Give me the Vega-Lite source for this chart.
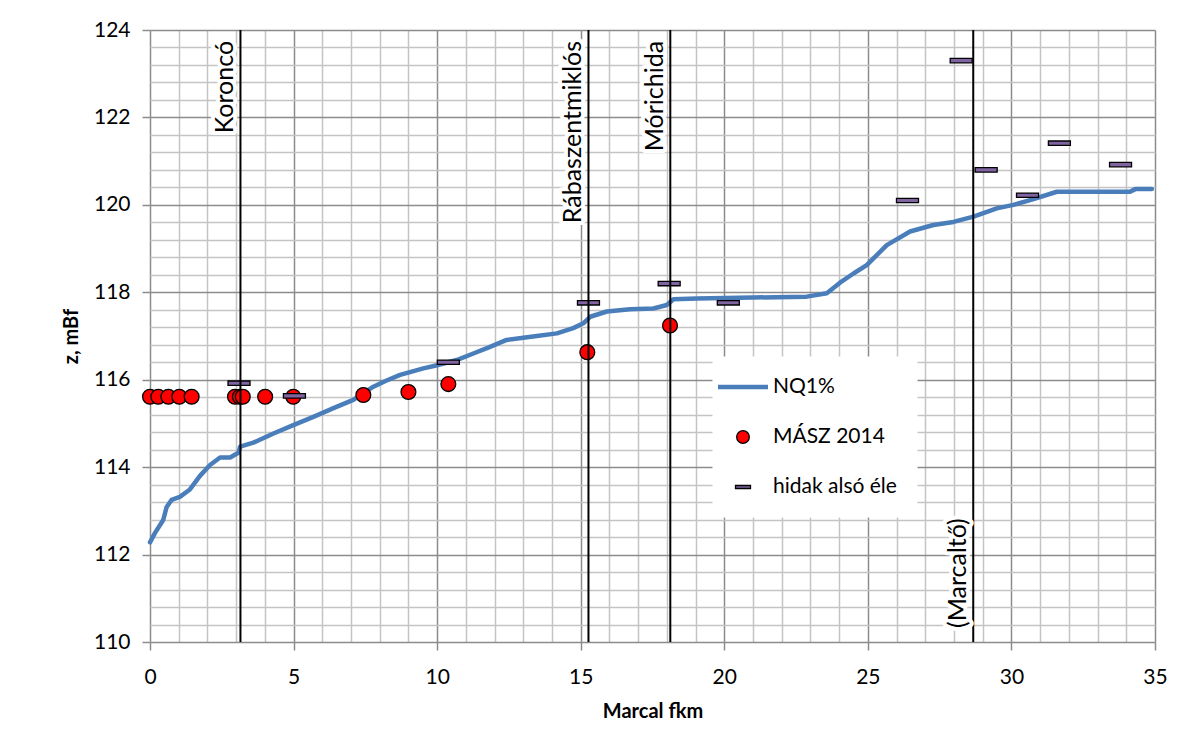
{
  "$schema": "https://vega.github.io/schema/vega-lite/v6.json",
  "width": 1005,
  "height": 612,
  "autosize": {"type": "none"},
  "padding": {"left": 150, "top": 30, "right": 30, "bottom": 104},
  "background": "white",
  "config": {
    "view": {"stroke": null},
    "font": "Lato",
    "axis": {"labelFont": "Lato", "titleFont": "Lato", "labelColor": "black", "titleColor": "black", "grid": true, "gridWidth": 1.5, "tickSize": 8, "tickWidth": 1.5, "domain": false, "labelFontSize": 21, "labelOverlap": false, "labelFlush": false, "titleFontSize": 20, "titleFontWeight": "bold"},
    "axisX": {"labelPadding": 16, "titlePadding": 14},
    "axisY": {"labelPadding": 12, "titlePadding": 12}
  },
  "datasets": {
    "nq": [
      {"km": 0, "z": 112.28}, {"km": 0.17, "z": 112.49}, {"km": 0.46, "z": 112.79}, {"km": 0.58, "z": 113.09},
      {"km": 0.75, "z": 113.25}, {"km": 1.04, "z": 113.32}, {"km": 1.39, "z": 113.49}, {"km": 1.74, "z": 113.8},
      {"km": 2.09, "z": 114.05}, {"km": 2.44, "z": 114.22}, {"km": 2.79, "z": 114.22}, {"km": 3.08, "z": 114.33},
      {"km": 3.14, "z": 114.47}, {"km": 3.6, "z": 114.56}, {"km": 4.3, "z": 114.77}, {"km": 4.99, "z": 114.96},
      {"km": 5.69, "z": 115.15}, {"km": 6.39, "z": 115.35}, {"km": 7.08, "z": 115.54}, {"km": 7.78, "z": 115.84},
      {"km": 8.2, "z": 115.97}, {"km": 8.71, "z": 116.11}, {"km": 9.52, "z": 116.26}, {"km": 10.0, "z": 116.33},
      {"km": 10.68, "z": 116.45}, {"km": 11.26, "z": 116.6}, {"km": 11.8, "z": 116.74}, {"km": 12.42, "z": 116.91},
      {"km": 13.47, "z": 117.0}, {"km": 14.17, "z": 117.06}, {"km": 14.74, "z": 117.18}, {"km": 15.09, "z": 117.29},
      {"km": 15.33, "z": 117.44}, {"km": 15.91, "z": 117.56}, {"km": 16.72, "z": 117.61}, {"km": 17.53, "z": 117.63},
      {"km": 18.0, "z": 117.71}, {"km": 18.23, "z": 117.84}, {"km": 19.04, "z": 117.86}, {"km": 21.0, "z": 117.88},
      {"km": 22.87, "z": 117.9}, {"km": 23.57, "z": 117.98}, {"km": 24.03, "z": 118.22}, {"km": 24.5, "z": 118.43},
      {"km": 24.96, "z": 118.62}, {"km": 25.66, "z": 119.08}, {"km": 26.47, "z": 119.39}, {"km": 27.28, "z": 119.54},
      {"km": 27.98, "z": 119.61}, {"km": 28.68, "z": 119.73}, {"km": 29.49, "z": 119.92}, {"km": 30.07, "z": 120.0},
      {"km": 30.77, "z": 120.13}, {"km": 31.58, "z": 120.3}, {"km": 34.13, "z": 120.3}, {"km": 34.31, "z": 120.36},
      {"km": 34.89, "z": 120.36}
    ],
    "masz": [
      {"km": 0, "z": 115.61, "series": "MÁSZ 2014"}, {"km": 0.29, "z": 115.61, "series": "MÁSZ 2014"},
      {"km": 0.64, "z": 115.61, "series": "MÁSZ 2014"}, {"km": 1.02, "z": 115.61, "series": "MÁSZ 2014"},
      {"km": 1.45, "z": 115.61, "series": "MÁSZ 2014"}, {"km": 2.96, "z": 115.61, "series": "MÁSZ 2014"},
      {"km": 3.13, "z": 115.61, "series": "MÁSZ 2014"}, {"km": 3.23, "z": 115.61, "series": "MÁSZ 2014"},
      {"km": 4.01, "z": 115.61, "series": "MÁSZ 2014"}, {"km": 4.99, "z": 115.61, "series": "MÁSZ 2014"},
      {"km": 7.43, "z": 115.65, "series": "MÁSZ 2014"}, {"km": 9.0, "z": 115.72, "series": "MÁSZ 2014"},
      {"km": 10.39, "z": 115.9, "series": "MÁSZ 2014"}, {"km": 15.23, "z": 116.63, "series": "MÁSZ 2014"},
      {"km": 18.11, "z": 117.24, "series": "MÁSZ 2014"}
    ],
    "hidak": [
      {"km": 3.1, "z": 115.92, "series": "hidak alsó éle"}, {"km": 5.03, "z": 115.63, "series": "hidak alsó éle"},
      {"km": 10.39, "z": 116.4, "series": "hidak alsó éle"}, {"km": 15.27, "z": 117.76, "series": "hidak alsó éle"},
      {"km": 18.08, "z": 118.2, "series": "hidak alsó éle"}, {"km": 20.14, "z": 117.76, "series": "hidak alsó éle"},
      {"km": 26.38, "z": 120.1, "series": "hidak alsó éle"}, {"km": 28.25, "z": 123.3, "series": "hidak alsó éle"},
      {"km": 29.12, "z": 120.8, "series": "hidak alsó éle"}, {"km": 30.56, "z": 120.22, "series": "hidak alsó éle"},
      {"km": 31.67, "z": 121.41, "series": "hidak alsó éle"}, {"km": 33.8, "z": 120.92, "series": "hidak alsó éle"}
    ],
    "places": [
      {"km": 3.15, "name": "Koroncó"},
      {"km": 15.27, "name": "Rábaszentmiklós"},
      {"km": 18.12, "name": "Mórichida"},
      {"km": 28.67, "name": "(Marcaltő)"}
    ]
  },
  "layer": [
    {
      "data": {"name": "nq"},
      "mark": {"type": "line", "color": "#4A7EBB", "strokeWidth": 4.5, "strokeJoin": "round", "strokeCap": "round"},
      "encoding": {
        "x": {"field": "km", "type": "quantitative", "scale": {"domain": [0, 35], "nice": false, "zero": false},
          "axis": {"title": "Marcal fkm", "values": [0,1,2,3,4,5,6,7,8,9,10,11,12,13,14,15,16,17,18,19,20,21,22,23,24,25,26,27,28,29,30,31,32,33,34,35], "format": "d", "labelExpr": "datum.value % 5 === 0 ? datum.label : ''", "gridColor": {"condition": {"test": "datum.value % 5 === 0", "value": "#8C8C8C"}, "value": "#C4C4C4"}, "tickColor": {"condition": {"test": "datum.value % 5 === 0", "value": "#8C8C8C"}, "value": "transparent"}}},
        "y": {"field": "z", "type": "quantitative", "scale": {"domain": [110, 124], "nice": false, "zero": false},
          "axis": {"title": "z, mBf", "values": [110,110.4,110.8,111.2,111.6,112,112.4,112.8,113.2,113.6,114,114.4,114.8,115.2,115.6,116,116.4,116.8,117.2,117.6,118,118.4,118.8,119.2,119.6,120,120.4,120.8,121.2,121.6,122,122.4,122.8,123.2,123.6,124], "format": ".0f", "labelExpr": "abs(datum.value % 2) < 0.001 ? datum.label : ''", "gridColor": {"condition": {"test": "abs(datum.value % 2) < 0.001", "value": "#8C8C8C"}, "value": "#C4C4C4"}, "tickColor": {"condition": {"test": "abs(datum.value % 2) < 0.001", "value": "#8C8C8C"}, "value": "transparent"}}}
      }
    },
    {
      "data": {"name": "masz"},
      "mark": {"type": "point", "filled": true, "opacity": 1, "size": 220, "stroke": "black", "strokeWidth": 1.3},
      "encoding": {
        "x": {"field": "km", "type": "quantitative",
          "axis": {"title": "Marcal fkm", "values": [0,1,2,3,4,5,6,7,8,9,10,11,12,13,14,15,16,17,18,19,20,21,22,23,24,25,26,27,28,29,30,31,32,33,34,35], "format": "d", "labelExpr": "datum.value % 5 === 0 ? datum.label : ''", "gridColor": {"condition": {"test": "datum.value % 5 === 0", "value": "#8C8C8C"}, "value": "#C4C4C4"}, "tickColor": {"condition": {"test": "datum.value % 5 === 0", "value": "#8C8C8C"}, "value": "transparent"}}},
        "y": {"field": "z", "type": "quantitative",
          "axis": {"title": "z, mBf", "values": [110,110.4,110.8,111.2,111.6,112,112.4,112.8,113.2,113.6,114,114.4,114.8,115.2,115.6,116,116.4,116.8,117.2,117.6,118,118.4,118.8,119.2,119.6,120,120.4,120.8,121.2,121.6,122,122.4,122.8,123.2,123.6,124], "format": ".0f", "labelExpr": "abs(datum.value % 2) < 0.001 ? datum.label : ''", "gridColor": {"condition": {"test": "abs(datum.value % 2) < 0.001", "value": "#8C8C8C"}, "value": "#C4C4C4"}, "tickColor": {"condition": {"test": "abs(datum.value % 2) < 0.001", "value": "#8C8C8C"}, "value": "transparent"}}},
        "fill": {
          "field": "series", "type": "nominal",
          "scale": {"domain": ["NQ1%", "MÁSZ 2014", "hidak alsó éle"], "range": ["#4A7EBB", "#FF0000", "#8064A2"]},
          "legend": {
            "orient": "none", "legendX": 562.5, "legendY": 326.5, "padding": 20,
            "fillColor": "white", "strokeColor": null, "title": null,
            "symbolSize": 2500, "rowPadding": 28, "labelOffset": 19.5,
            "labelFont": "Lato", "labelFontSize": 21, "labelColor": "black", "labelLimit": 400,
            "encoding": {
              "symbols": {
                "size": {"value": {"expr": "datum.value === 'NQ1%' ? 2500 : datum.value === 'MÁSZ 2014' ? 160 : 225"}},
                "stroke": {"value": {"expr": "datum.value === 'NQ1%' ? '#4A7EBB' : 'black'"}},
                "strokeWidth": {"value": {"expr": "datum.value === 'NQ1%' ? 4.5 : 1.3"}},
                "opacity": {"value": 1}
              }
            }
          }
        },
        "shape": {
          "field": "series", "type": "nominal",
          "scale": {"domain": ["NQ1%", "MÁSZ 2014", "hidak alsó éle"], "range": ["stroke", "circle", "M-1,-0.2L1,-0.2L1,0.2L-1,0.2Z"]}
        }
      }
    },
    {
      "data": {"name": "hidak"},
      "mark": {"type": "point", "filled": true, "opacity": 1, "size": 484, "stroke": "black", "strokeWidth": 1.3},
      "encoding": {
        "x": {"field": "km", "type": "quantitative",
          "axis": {"title": "Marcal fkm", "values": [0,1,2,3,4,5,6,7,8,9,10,11,12,13,14,15,16,17,18,19,20,21,22,23,24,25,26,27,28,29,30,31,32,33,34,35], "format": "d", "labelExpr": "datum.value % 5 === 0 ? datum.label : ''", "gridColor": {"condition": {"test": "datum.value % 5 === 0", "value": "#8C8C8C"}, "value": "#C4C4C4"}, "tickColor": {"condition": {"test": "datum.value % 5 === 0", "value": "#8C8C8C"}, "value": "transparent"}}},
        "y": {"field": "z", "type": "quantitative",
          "axis": {"title": "z, mBf", "values": [110,110.4,110.8,111.2,111.6,112,112.4,112.8,113.2,113.6,114,114.4,114.8,115.2,115.6,116,116.4,116.8,117.2,117.6,118,118.4,118.8,119.2,119.6,120,120.4,120.8,121.2,121.6,122,122.4,122.8,123.2,123.6,124], "format": ".0f", "labelExpr": "abs(datum.value % 2) < 0.001 ? datum.label : ''", "gridColor": {"condition": {"test": "abs(datum.value % 2) < 0.001", "value": "#8C8C8C"}, "value": "#C4C4C4"}, "tickColor": {"condition": {"test": "abs(datum.value % 2) < 0.001", "value": "#8C8C8C"}, "value": "transparent"}}},
        "fill": {"field": "series", "type": "nominal"},
        "shape": {"field": "series", "type": "nominal"}
      }
    },
    {
      "data": {"name": "places"},
      "mark": {"type": "rule", "color": "black", "strokeWidth": 2},
      "encoding": {
        "x": {"field": "km", "type": "quantitative",
          "axis": {"title": "Marcal fkm", "values": [0,1,2,3,4,5,6,7,8,9,10,11,12,13,14,15,16,17,18,19,20,21,22,23,24,25,26,27,28,29,30,31,32,33,34,35], "format": "d", "labelExpr": "datum.value % 5 === 0 ? datum.label : ''", "gridColor": {"condition": {"test": "datum.value % 5 === 0", "value": "#8C8C8C"}, "value": "#C4C4C4"}, "tickColor": {"condition": {"test": "datum.value % 5 === 0", "value": "#8C8C8C"}, "value": "transparent"}}}
      }
    },
    {
      "data": {"name": "places"},
      "transform": [{"filter": "datum.name !== '(Marcaltő)'"}],
      "mark": {"type": "text", "angle": 270, "align": "right", "baseline": "alphabetic", "dy": -7, "font": "Lato", "fontSize": 25, "stroke": "white", "strokeWidth": 8, "strokeJoin": "round", "fill": "white"},
      "encoding": {
        "x": {"field": "km", "type": "quantitative",
          "axis": {"title": "Marcal fkm", "values": [0,1,2,3,4,5,6,7,8,9,10,11,12,13,14,15,16,17,18,19,20,21,22,23,24,25,26,27,28,29,30,31,32,33,34,35], "format": "d", "labelExpr": "datum.value % 5 === 0 ? datum.label : ''", "gridColor": {"condition": {"test": "datum.value % 5 === 0", "value": "#8C8C8C"}, "value": "#C4C4C4"}, "tickColor": {"condition": {"test": "datum.value % 5 === 0", "value": "#8C8C8C"}, "value": "transparent"}}},
        "y": {"datum": 123.75, "type": "quantitative",
          "axis": {"title": "z, mBf", "values": [110,110.4,110.8,111.2,111.6,112,112.4,112.8,113.2,113.6,114,114.4,114.8,115.2,115.6,116,116.4,116.8,117.2,117.6,118,118.4,118.8,119.2,119.6,120,120.4,120.8,121.2,121.6,122,122.4,122.8,123.2,123.6,124], "format": ".0f", "labelExpr": "abs(datum.value % 2) < 0.001 ? datum.label : ''", "gridColor": {"condition": {"test": "abs(datum.value % 2) < 0.001", "value": "#8C8C8C"}, "value": "#C4C4C4"}, "tickColor": {"condition": {"test": "abs(datum.value % 2) < 0.001", "value": "#8C8C8C"}, "value": "transparent"}}},
        "text": {"field": "name"}
      }
    },
    {
      "data": {"name": "places"},
      "transform": [{"filter": "datum.name !== '(Marcaltő)'"}],
      "mark": {"type": "text", "angle": 270, "align": "right", "baseline": "alphabetic", "dy": -7, "font": "Lato", "fontSize": 25, "color": "black"},
      "encoding": {
        "x": {"field": "km", "type": "quantitative",
          "axis": {"title": "Marcal fkm", "values": [0,1,2,3,4,5,6,7,8,9,10,11,12,13,14,15,16,17,18,19,20,21,22,23,24,25,26,27,28,29,30,31,32,33,34,35], "format": "d", "labelExpr": "datum.value % 5 === 0 ? datum.label : ''", "gridColor": {"condition": {"test": "datum.value % 5 === 0", "value": "#8C8C8C"}, "value": "#C4C4C4"}, "tickColor": {"condition": {"test": "datum.value % 5 === 0", "value": "#8C8C8C"}, "value": "transparent"}}},
        "y": {"datum": 123.75, "type": "quantitative",
          "axis": {"title": "z, mBf", "values": [110,110.4,110.8,111.2,111.6,112,112.4,112.8,113.2,113.6,114,114.4,114.8,115.2,115.6,116,116.4,116.8,117.2,117.6,118,118.4,118.8,119.2,119.6,120,120.4,120.8,121.2,121.6,122,122.4,122.8,123.2,123.6,124], "format": ".0f", "labelExpr": "abs(datum.value % 2) < 0.001 ? datum.label : ''", "gridColor": {"condition": {"test": "abs(datum.value % 2) < 0.001", "value": "#8C8C8C"}, "value": "#C4C4C4"}, "tickColor": {"condition": {"test": "abs(datum.value % 2) < 0.001", "value": "#8C8C8C"}, "value": "transparent"}}},
        "text": {"field": "name"}
      }
    },
    {
      "data": {"name": "places"},
      "transform": [{"filter": "datum.name === '(Marcaltő)'"}],
      "mark": {"type": "text", "angle": 270, "align": "left", "baseline": "alphabetic", "dy": -7, "font": "Lato", "fontSize": 25, "stroke": "white", "strokeWidth": 8, "strokeJoin": "round", "fill": "white"},
      "encoding": {
        "x": {"field": "km", "type": "quantitative",
          "axis": {"title": "Marcal fkm", "values": [0,1,2,3,4,5,6,7,8,9,10,11,12,13,14,15,16,17,18,19,20,21,22,23,24,25,26,27,28,29,30,31,32,33,34,35], "format": "d", "labelExpr": "datum.value % 5 === 0 ? datum.label : ''", "gridColor": {"condition": {"test": "datum.value % 5 === 0", "value": "#8C8C8C"}, "value": "#C4C4C4"}, "tickColor": {"condition": {"test": "datum.value % 5 === 0", "value": "#8C8C8C"}, "value": "transparent"}}},
        "y": {"datum": 110.32, "type": "quantitative",
          "axis": {"title": "z, mBf", "values": [110,110.4,110.8,111.2,111.6,112,112.4,112.8,113.2,113.6,114,114.4,114.8,115.2,115.6,116,116.4,116.8,117.2,117.6,118,118.4,118.8,119.2,119.6,120,120.4,120.8,121.2,121.6,122,122.4,122.8,123.2,123.6,124], "format": ".0f", "labelExpr": "abs(datum.value % 2) < 0.001 ? datum.label : ''", "gridColor": {"condition": {"test": "abs(datum.value % 2) < 0.001", "value": "#8C8C8C"}, "value": "#C4C4C4"}, "tickColor": {"condition": {"test": "abs(datum.value % 2) < 0.001", "value": "#8C8C8C"}, "value": "transparent"}}},
        "text": {"field": "name"}
      }
    },
    {
      "data": {"name": "places"},
      "transform": [{"filter": "datum.name === '(Marcaltő)'"}],
      "mark": {"type": "text", "angle": 270, "align": "left", "baseline": "alphabetic", "dy": -7, "font": "Lato", "fontSize": 25, "color": "black"},
      "encoding": {
        "x": {"field": "km", "type": "quantitative",
          "axis": {"title": "Marcal fkm", "values": [0,1,2,3,4,5,6,7,8,9,10,11,12,13,14,15,16,17,18,19,20,21,22,23,24,25,26,27,28,29,30,31,32,33,34,35], "format": "d", "labelExpr": "datum.value % 5 === 0 ? datum.label : ''", "gridColor": {"condition": {"test": "datum.value % 5 === 0", "value": "#8C8C8C"}, "value": "#C4C4C4"}, "tickColor": {"condition": {"test": "datum.value % 5 === 0", "value": "#8C8C8C"}, "value": "transparent"}}},
        "y": {"datum": 110.32, "type": "quantitative",
          "axis": {"title": "z, mBf", "values": [110,110.4,110.8,111.2,111.6,112,112.4,112.8,113.2,113.6,114,114.4,114.8,115.2,115.6,116,116.4,116.8,117.2,117.6,118,118.4,118.8,119.2,119.6,120,120.4,120.8,121.2,121.6,122,122.4,122.8,123.2,123.6,124], "format": ".0f", "labelExpr": "abs(datum.value % 2) < 0.001 ? datum.label : ''", "gridColor": {"condition": {"test": "abs(datum.value % 2) < 0.001", "value": "#8C8C8C"}, "value": "#C4C4C4"}, "tickColor": {"condition": {"test": "abs(datum.value % 2) < 0.001", "value": "#8C8C8C"}, "value": "transparent"}}},
        "text": {"field": "name"}
      }
    }
  ]
}
